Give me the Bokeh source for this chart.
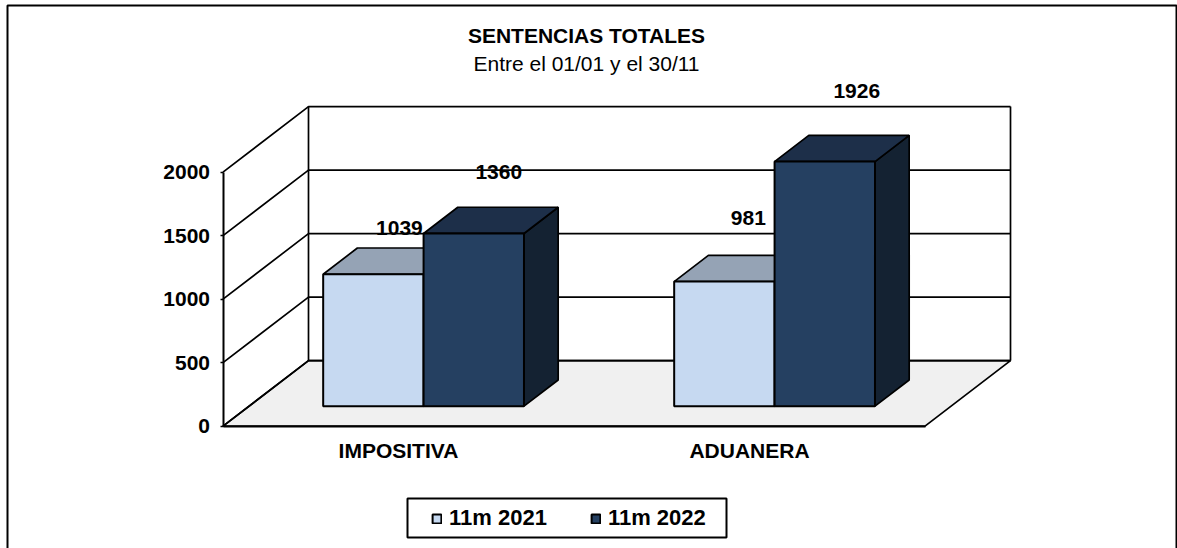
from bokeh.plotting import figure
from bokeh.models import Range1d, FixedTicker, Legend, LegendItem, ColumnDataSource
from bokeh.core.properties import value
from bokeh.embed import file_html
from bokeh.resources import INLINE

categories = ["IMPOSITIVA", "ADUANERA"]
series_names = ["11m 2021", "11m 2022"]
values_2021 = [1039, 981]
values_2022 = [1360, 1926]
y_ticks = [0, 500, 1000, 1500, 2000]
title_text = "SENTENCIAS TOTALES"
subtitle_text = "Entre el 01/01 y el 30/11"

W, H = 1177, 548
FONT = "Liberation Sans"
PX_PER_UNIT_Y = 0.127
PX_PER_CAT = 351.0
AX_PX, Y0_PX = 222.5, 425.7


def X(px):
    return (px - AX_PX) / PX_PER_CAT - 0.5


def Y(py):
    return (Y0_PX - py) / PX_PER_UNIT_Y


# depth shift of the 3D box, in data units
DX = 85.5 / PX_PER_CAT
DY = 65.6 / PX_PER_UNIT_Y
D_FRONT, D_BACK = 0.305, 0.705
BAR_W = 100.4 / PX_PER_CAT
GROUP_SHIFT = -1.0 / PX_PER_CAT
YMAX = max(y_ticks)
XL, XR = -0.5, 1.5


def proj(u, v, d):
    return u + DX * d, v + DY * d


p = figure(width=W, height=H, x_range=Range1d(X(0), X(W)), y_range=Range1d(Y(H), Y(0)),
           output_backend="svg", toolbar_location=None, min_border=0,
           margin=0, background_fill_color="white", border_fill_color="white")
p.outline_line_color = None
p.grid.visible = False

# floor
fx, fy = zip(*[proj(XL, 0, 0), proj(XR, 0, 0), proj(XR, 0, 1), proj(XL, 0, 1)])
p.patch(list(fx), list(fy), fill_color="#F0F0F0", line_color="black", line_width=1.7)

# back wall and left wall
for t in y_ticks:
    a, b, c = proj(XL, t, 0), proj(XL, t, 1), proj(XR, t, 1)
    p.line([a[0], b[0], c[0]], [a[1], b[1], c[1]], line_color="black", line_width=1.7)
a, b = proj(XL, 0, 1), proj(XL, YMAX, 1)
p.line([a[0], b[0]], [a[1], b[1]], line_color="black", line_width=1.7)
a, b = proj(XR, 0, 1), proj(XR, YMAX, 1)
p.line([a[0], b[0]], [a[1], b[1]], line_color="black", line_width=1.7)

FACE = {
    0: ("#C6D9F1", "#95A3B5", "#6F7F91"),
    1: ("#254061", "#1D2F49", "#142232"),
}
front_renderers = {}
for s, vals in enumerate([values_2021, values_2022]):
    fr_x, fr_y, top_x, top_y, side_x, side_y = [], [], [], [], [], []
    for c, v in enumerate(vals):
        left = c + GROUP_SHIFT - BAR_W + s * BAR_W
        right = left + BAR_W
        corners = [proj(left, 0, D_FRONT), proj(right, 0, D_FRONT), proj(right, v, D_FRONT), proj(left, v, D_FRONT)]
        fr_x.append([q[0] for q in corners]); fr_y.append([q[1] for q in corners])
        corners = [proj(left, v, D_FRONT), proj(right, v, D_FRONT), proj(right, v, D_BACK), proj(left, v, D_BACK)]
        top_x.append([q[0] for q in corners]); top_y.append([q[1] for q in corners])
        corners = [proj(right, 0, D_FRONT), proj(right, 0, D_BACK), proj(right, v, D_BACK), proj(right, v, D_FRONT)]
        side_x.append([q[0] for q in corners]); side_y.append([q[1] for q in corners])
    p.patches(side_x, side_y, fill_color=FACE[s][2], line_color="black", line_width=1.7)
    p.patches(top_x, top_y, fill_color=FACE[s][1], line_color="black", line_width=1.7)
    front_renderers[s] = p.patches(fr_x, fr_y, fill_color=FACE[s][0], line_color="black", line_width=2)

# axes
p.yaxis.fixed_location = XL
p.yaxis.ticker = FixedTicker(ticks=y_ticks)
p.yaxis.bounds = (0, YMAX)
p.yaxis.axis_line_color = "black"
p.yaxis.axis_line_width = 2
p.yaxis.major_tick_line_width = 1.5
p.yaxis.major_tick_out = 3
p.yaxis.major_tick_in = 0
p.yaxis.minor_tick_line_color = None
p.yaxis.major_label_standoff = 10
p.yaxis.major_label_text_font = FONT
p.yaxis.major_label_text_font_style = "bold"
p.yaxis.major_label_text_font_size = "21px"
p.yaxis.major_label_text_color = "black"

p.xaxis.fixed_location = 0
p.xaxis.ticker = FixedTicker(ticks=list(range(len(categories))))
p.xaxis.major_label_overrides = {i: c for i, c in enumerate(categories)}
p.xaxis.bounds = (XL, XR)
p.xaxis.axis_line_color = "black"
p.xaxis.axis_line_width = 2
p.xaxis.major_tick_line_color = None
p.xaxis.minor_tick_line_color = None
p.xaxis.major_label_standoff = 7
p.xaxis.major_label_text_font = FONT
p.xaxis.major_label_text_font_style = "bold"
p.xaxis.major_label_text_font_size = "21px"
p.xaxis.major_label_text_color = "black"

# data labels, offset from the top of each bar
label_dx_px = [[26, 25], [24, 32]]
label_dy_px = [[46.7, 61], [64, 70.7]]
lx, ly, lt = [], [], []
for c in range(len(categories)):
    for s, vals in enumerate([values_2021, values_2022]):
        u = c + GROUP_SHIFT - BAR_W + (s + 0.5) * BAR_W
        q = proj(u, vals[c], D_FRONT)
        lx.append(q[0] + label_dx_px[c][s] / PX_PER_CAT)
        ly.append(q[1] + label_dy_px[c][s] / PX_PER_UNIT_Y)
        lt.append(str(vals[c]))
p.text(x="x", y="y", text="t", source=ColumnDataSource(dict(x=lx, y=ly, t=lt)),
       text_font=value(FONT), text_font_style="bold", text_font_size="21px",
       text_color="black", text_align="center", text_baseline="middle")

# titles
p.text(x=[X(586)], y=[Y(35)], text=[title_text], text_font=value(FONT), text_font_style="bold",
       text_font_size="21px", text_color="black", text_align="center", text_baseline="middle")
p.text(x=[X(586)], y=[Y(63)], text=[subtitle_text], text_font=value(FONT), text_font_size="21px",
       text_color="black", text_align="center", text_baseline="middle")

# outer frame (open at the bottom)
p.line([X(7), X(7), X(1176), X(1176)], [Y(H + 5), Y(5), Y(5), Y(H + 5)], line_color="black", line_width=2)

# legend box
p.quad(left=[X(407)], right=[X(726)], top=[Y(498)], bottom=[Y(537)], fill_color="white",
       line_color="black", line_width=2)
legend = Legend(items=[LegendItem(label=series_names[i], renderers=[front_renderers[i]]) for i in range(2)],
                orientation="horizontal", location=(431, 17), margin=0, padding=0,
                border_line_color=None, background_fill_alpha=0,
                glyph_width=11, glyph_height=11, label_standoff=7, spacing=43,
                label_text_font=FONT, label_text_font_style="bold", label_text_font_size="22px",
                label_text_color="black")
p.add_layout(legend, "center")

open("out.html", "w").write(file_html(p, INLINE))
